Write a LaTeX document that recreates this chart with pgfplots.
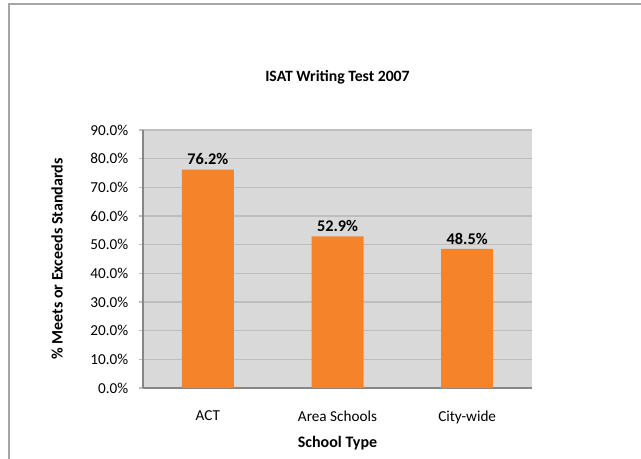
\documentclass[border=0pt]{standalone}
\usepackage{pgfplots}
\pgfplotsset{compat=1.18}
\usepackage{fontspec}
\setmainfont{Carlito}
\definecolor{bgc}{HTML}{D9D9D9}
\definecolor{gridc}{HTML}{BEBEBE}
\definecolor{axc}{HTML}{868686}
\definecolor{barc}{HTML}{F5832A}
\definecolor{framec}{HTML}{A6A6A6}
\begin{document}
\begin{tikzpicture}
\useasboundingbox (0,0) rectangle (480.75pt,343.5pt);
\clip (0,0) rectangle (480.75pt,343.5pt);
\fill[white] (0,0) rectangle (480.75pt,343.5pt);
\draw[framec, line width=0.8pt] (6.75pt,-10pt) -- (6.75pt,340.5pt) -- (500pt,340.5pt);
\begin{axis}[
  at={(107.25pt,52.5pt)}, anchor=south west,
  scale only axis, width=291.75pt, height=193.5pt,
  xmin=-0.5, xmax=2.5, ymin=0, ymax=90,
  axis background/.style={fill=bgc},
  axis x line*=bottom, axis y line*=left,
  axis line style={axc, line width=0.8pt},
  xtick={0,1,2}, xticklabels={ACT,Area Schools,City-wide},
  xtick style={draw=none},
  ytick={0,10,...,90},
  ymajorgrids, major grid style={gridc, line width=0.8pt},
  ytick style={gridc, line width=0.8pt}, tick align=outside, major tick length=3pt,
  /pgf/number format/assume math mode=true,
  yticklabel={\pgfmathprintnumber[fixed,fixed zerofill,precision=1]{\tick}\%},
  yticklabel style={font=\fontsize{11.4}{13}\selectfont, xshift=-4.5pt},
  xticklabel style={font=\fontsize{11.4}{13}\selectfont, yshift=-10.5pt},
  title={ISAT Writing Test 2007},
  title style={font=\bfseries\fontsize{11.8}{14}\selectfont, at={(0.5,1)}, anchor=center, yshift=33.5pt},
  xlabel={School Type},
  xlabel style={font=\bfseries\fontsize{12}{14}\selectfont, at={(0.5,0)}, anchor=center, yshift=-41.5pt},
  ylabel={\% Meets or Exceeds Standards},
  ylabel style={font=\bfseries\fontsize{12}{14}\selectfont, at={(axis description cs:-0.2211,0.5)}, anchor=center},
  clip=false,
]
\addplot[ybar, bar width=39pt, fill=barc, draw=none,
  nodes near coords={\pgfmathprintnumber[fixed,fixed zerofill,precision=1]{\pgfplotspointmeta}\%},
  nodes near coords style={font=\bfseries\fontsize{12.2}{14}\selectfont, black, yshift=0pt},
] coordinates {(0,76.2) (1,52.9) (2,48.5)};
\end{axis}
\end{tikzpicture}
\end{document}
